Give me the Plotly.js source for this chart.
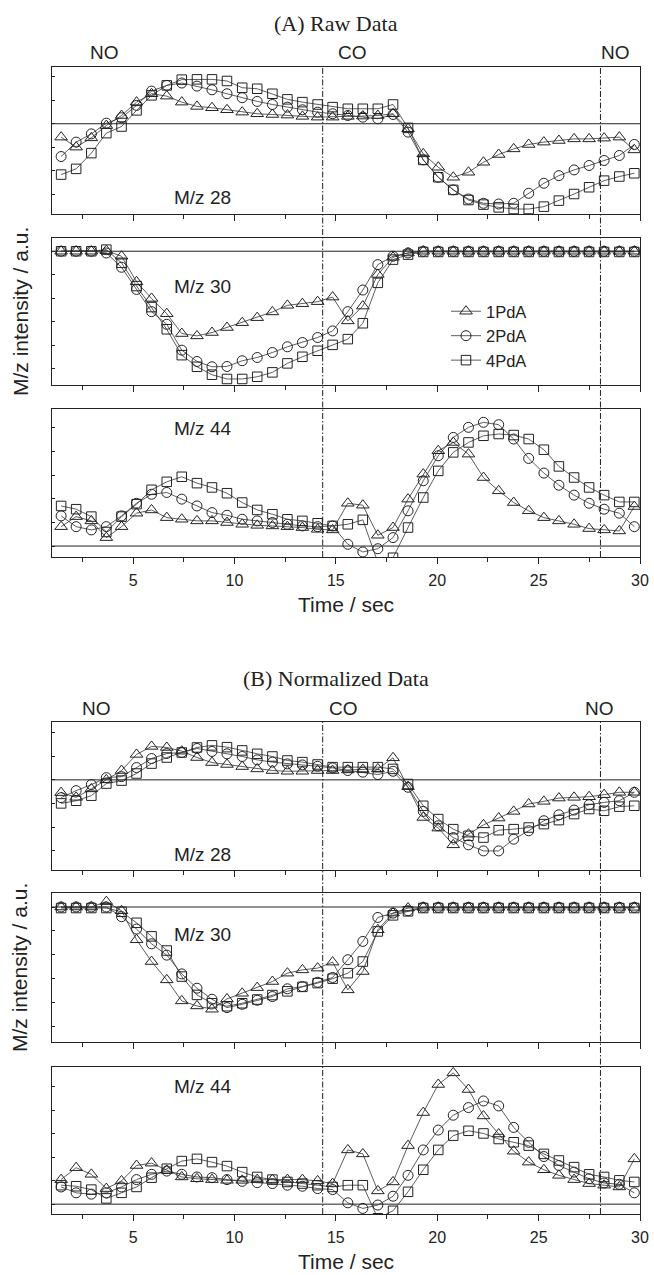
<!DOCTYPE html>
<html><head><meta charset="utf-8">
<script src="https://cdn.plot.ly/plotly-3.0.1.min.js"></script>
<style>html,body{margin:0;padding:0;background:#fff}#chart{width:654px;height:1275px}</style>
</head><body><div id="chart"></div>
<script>
// ---- data (arbitrary intensity units, 0-100 per panel) ----
const time = [1.45,2.19,2.94,3.68,4.43,5.17,5.91,6.66,7.40,8.15,8.89,9.63,10.38,11.12,11.87,12.61,13.35,14.10,14.84,15.59,16.33,17.07,17.82,18.56,19.31,20.05,20.79,21.54,22.28,23.03,23.77,24.51,25.26,26.00,26.75,27.49,28.23,28.98,29.72];
const seriesNames = ['1PdA','2PdA','4PdA'];
const panelLabels = ['M/z 28','M/z 30','M/z 44','M/z 28','M/z 30','M/z 44'];
const figTitles = ['(A) Raw Data','(B) Normalized Data'];
const gasLabels = ['NO','CO','NO'];
const switchTimes = [14.35, 28.05];
const baselines = [61.4, 91.0, 7.4, 60.9, 90.6, 6.7];

// (A) raw data
const a28_1 = [52.3,45.5,51.8,60.2,67.0,76.1,81.8,80.2,76.1,73.2,72.3,70.9,69.3,68.2,67.7,67.3,66.4,65.9,65.9,66.4,66.6,67.0,68.2,58.0,40.9,31.8,25.0,28.4,35.2,40.5,44.3,47.3,48.9,50.0,51.1,51.1,51.6,52.3,43.6];
const a28_2 = [39.1,48.9,54.5,61.8,65.5,73.9,83.6,87.5,89.1,87.0,84.5,81.8,79.1,76.6,74.5,72.7,70.9,69.3,68.2,67.0,65.9,64.8,67.7,55.7,36.8,25.0,16.4,10.2,7.3,6.8,7.3,14.1,20.9,26.1,30.0,33.0,36.4,39.8,47.3];
const a28_4 = [26.8,30.7,41.4,55.0,59.5,70.5,80.7,87.5,91.4,91.6,91.6,90.5,85.9,85.2,81.8,78.0,76.1,74.5,72.7,71.6,71.6,71.6,74.5,58.6,36.8,25.0,16.4,9.5,6.4,4.5,3.4,3.4,5.0,9.1,13.6,18.2,22.7,25.5,27.7];
const a30_1 = [91.0,91.0,91.0,91.4,87.6,70.2,58.9,48.5,35.0,33.4,35.7,39.1,42.4,45.8,49.7,54.2,55.3,56.7,59.8,43.6,53.7,75.2,86.9,89.8,91.0,91.0,91.0,91.0,91.0,91.0,91.0,91.0,91.0,91.0,91.0,91.0,91.0,91.0,91.0];
const a30_2 = [91.0,91.0,91.0,89.8,80.1,65.0,49.9,41.3,23.7,16.0,12.4,12.6,16.5,18.7,22.1,26.0,28.9,32.3,36.8,49.9,64.6,81.9,87.6,89.8,91.0,91.0,91.0,91.0,91.0,91.0,91.0,91.0,91.0,91.0,91.0,91.0,91.0,91.0,91.0];
const a30_4 = [91.0,91.0,91.0,92.1,83.1,67.3,53.0,37.9,20.3,12.4,7.0,4.1,4.1,5.6,8.6,14.7,19.2,23.3,27.3,31.2,42.0,69.5,85.3,88.7,90.5,90.5,90.5,90.5,90.5,90.5,90.5,90.5,90.5,90.5,90.5,90.5,90.5,90.5,90.5];
const a44_1 = [20.5,27.3,24.4,13.1,20.5,29.6,31.8,26.6,25.5,24.4,24.4,23.3,22.1,21.4,21.0,20.5,19.9,18.7,18.3,36.3,35.0,14.7,19.9,39.1,56.0,71.8,77.4,69.5,53.7,44.7,36.8,31.2,26.6,24.4,22.1,19.2,18.3,17.6,34.1];
const a44_2 = [27.8,20.5,18.3,20.5,27.8,36.3,42.4,43.6,39.1,34.5,30.0,28.2,25.5,24.4,23.3,22.1,21.0,20.5,21.0,8.6,3.4,5.6,13.1,31.2,51.5,68.4,80.8,87.6,91.0,89.4,79.7,66.6,56.7,48.5,41.8,36.3,32.3,29.6,20.5];
const a44_4 = [34.5,32.3,27.3,16.9,27.3,35.7,45.4,50.8,54.2,49.9,47.0,43.1,36.8,31.8,28.9,25.5,24.4,22.8,21.0,22.1,25.1,-3.8,-0.5,19.9,40.2,58.2,70.7,77.4,81.9,83.1,82.4,79.7,72.5,61.2,53.7,47.0,41.8,37.2,37.2];

// (B) normalized data
const b28_1 = [52.3,49.1,54.8,60.9,67.2,78.1,83.5,82.8,80.3,76.0,72.6,71.3,69.9,68.3,67.2,66.7,66.7,67.2,67.2,67.6,67.9,68.3,75.8,56.3,35.5,28.3,17.0,24.2,30.5,35.1,39.6,44.6,46.4,48.6,49.1,49.5,50.9,52.5,52.5];
const b28_2 = [48.9,53.6,57.7,62.4,63.1,69.2,75.3,78.7,79.4,82.1,80.1,78.5,76.7,74.4,72.9,71.7,71.0,70.1,69.0,67.2,66.1,64.5,66.7,55.9,39.6,29.9,21.9,17.0,12.9,12.9,20.8,26.5,33.3,37.3,40.5,44.1,45.7,46.8,52.5];
const b28_4 = [45.0,46.8,50.2,58.4,60.4,65.2,71.9,76.0,79.4,82.8,84.2,83.0,80.8,78.5,76.7,74.0,72.9,71.3,69.5,69.5,69.5,69.5,68.3,58.1,43.4,34.4,27.6,23.1,21.9,26.9,27.6,28.7,31.0,33.7,37.8,41.2,40.0,42.8,43.4];
const b30_1 = [90.6,90.6,90.6,94.2,88.1,68.6,54.0,41.7,27.6,24.2,22.0,28.9,32.7,36.5,40.6,46.2,48.4,49.6,53.6,35.0,47.3,75.3,86.5,89.9,90.4,90.4,90.4,90.4,90.4,90.4,90.4,90.4,90.4,90.4,90.4,90.4,90.4,90.4,90.4];
const b30_2 = [90.6,90.6,90.6,90.6,84.1,75.8,65.9,58.3,45.7,36.1,28.7,23.1,25.3,28.0,30.5,35.7,37.2,40.1,43.3,55.2,67.5,83.6,86.5,88.1,90.4,90.4,90.4,90.4,90.4,90.4,90.4,90.4,90.4,90.4,90.4,90.4,90.4,90.4,90.4];
const b30_4 = [89.9,89.9,89.9,89.9,87.4,80.0,70.9,61.4,43.9,31.6,26.0,24.0,26.0,28.5,31.5,34.0,37.0,39.5,42.5,46.2,54.0,74.2,85.0,87.7,89.9,89.9,89.9,89.9,89.9,89.9,89.9,89.9,89.9,89.9,89.9,89.9,89.9,89.9,89.9];
const b44_1 = [23.4,31.5,27.0,17.3,22.5,33.0,34.6,29.7,25.2,24.0,23.4,22.9,22.9,23.4,23.4,23.4,23.4,22.5,20.7,43.6,40.9,15.7,21.8,46.5,69.0,88.1,96.0,84.7,66.7,54.4,42.7,35.3,30.1,26.3,23.4,20.7,19.6,18.4,37.5];
const b44_2 = [18.4,14.4,13.5,14.4,18.4,23.4,27.0,29.2,27.0,25.2,24.7,23.4,22.2,21.3,20.7,19.6,18.9,17.3,16.6,7.6,3.8,6.1,12.1,26.3,43.6,57.1,67.2,72.4,76.9,73.5,58.9,48.8,39.1,33.0,28.5,24.0,21.1,20.2,14.4];
const b44_4 = [19.6,18.9,16.6,10.6,14.4,18.4,24.7,30.8,36.0,37.5,35.3,32.6,28.5,25.2,23.4,21.8,20.7,19.6,18.4,19.6,19.6,-2.9,2.2,15.1,30.1,43.6,53.3,56.6,54.8,51.0,48.8,46.5,40.9,36.4,31.9,27.0,25.2,22.9,21.8];

const panelData = [
  [a28_1,a28_2,a28_4],[a30_1,a30_2,a30_4],[a44_1,a44_2,a44_4],
  [b28_1,b28_2,b28_4],[b30_1,b30_2,b30_4],[b44_1,b44_2,b44_4]
];

// ---- layout geometry ----
const W = 654, H = 1275;
const xL = 52/W, xR = 640/W;
const panelPx = [[67,214],[238,385],[409,557],[722,870],[893,1042],[1067,1214]];
const py = v => 1 - v/H;
const ink = '#222';
const sans = 'Arial, "Liberation Sans", Helvetica, sans-serif';
const serif = '"Times New Roman", "Liberation Serif", serif';

const symbols = ['triangle-up-open','circle-open','square-open'];
const msizes = [11, 10, 9.5];

const traces = [];
const layout = {
  width: W, height: H,
  margin: {l:0, r:0, t:0, b:0},
  paper_bgcolor: '#fff', plot_bgcolor: 'rgba(0,0,0,0)',
  showlegend: true,
  legend: {x: 446/W, y: py(294), xanchor: 'left', yanchor: 'top',
           bgcolor: 'rgba(0,0,0,0)', font: {family: sans, size: 16.5, color: ink},
           tracegroupgap: 0},
  shapes: [], annotations: []
};

panelData.forEach((set, p) => {
  const n = p + 1;
  const xa = 'x' + (n > 1 ? n : ''), ya = 'y' + (n > 1 ? n : '');
  set.forEach((vals, s) => {
    traces.push({
      type: 'scatter', mode: 'lines+markers', x: time, y: vals,
      xaxis: xa, yaxis: ya, name: seriesNames[s],
      showlegend: p === 1, legendrank: s + 1,
      line: {color: '#333', width: 0.8},
      marker: {symbol: symbols[s], size: msizes[s], color: ink, line: {width: 1, color: ink}},
      hoverinfo: 'skip'
    });
  });
  const [top, bot] = panelPx[p];
  const bottomPanel = (p === 2 || p === 5);
  layout['xaxis' + (n > 1 ? n : '')] = {
    domain: [xL, xR], range: [1, 30], anchor: ya,
    showline: true, mirror: true, linecolor: ink, linewidth: 1,
    ticks: 'outside', ticklen: 6, tickwidth: 1, tickcolor: ink,
    tick0: 0, dtick: 5, showticklabels: bottomPanel,
    tickfont: {family: sans, size: 16, color: ink}, ticklabelstandoff: 3,
    minor: {tick0: 0, dtick: 2.5, ticks: 'outside', ticklen: 3.5, tickcolor: ink, showgrid: false},
    showgrid: false, zeroline: false, fixedrange: true
  };
  layout['yaxis' + (n > 1 ? n : '')] = {
    domain: [py(bot), py(top)], range: [0, 100], anchor: xa,
    showline: true, mirror: true, linecolor: ink, linewidth: 1,
    ticks: 'inside', ticklen: 3, tickcolor: ink, tick0: baselines[p], dtick: 16,
    showticklabels: false, showgrid: false, zeroline: false, fixedrange: true
  };
  layout.shapes.push({type: 'line', xref: xa, yref: ya, x0: 1, x1: 30,
    y0: baselines[p], y1: baselines[p], line: {color: ink, width: 1}, layer: 'below'});
  layout.annotations.push({xref: xa, yref: ya, x: 8.4, y: [11.4, 67.3, 86.5, 10.6, 72, 87][p],
    text: panelLabels[p], showarrow: false, font: {family: sans, size: 19, color: ink},
    xanchor: 'center', yanchor: 'middle'});
});

// group-level decorations
[[0, 2], [3, 5]].forEach(([pTop, pBot], g) => {
  const yTop = py(panelPx[pTop][0]), yBot = py(panelPx[pBot][1]);
  switchTimes.forEach(t => layout.shapes.push({type: 'line', xref: 'x', yref: 'paper',
    x0: t, x1: t, y0: yBot, y1: yTop, line: {color: ink, width: 1, dash: '6px,2px,1.5px,2px'}}));
  const titleY = g === 0 ? 24 : 678;
  layout.annotations.push({xref: 'paper', yref: 'paper', x: 336 / W, y: py(titleY),
    text: figTitles[g], showarrow: false, font: {family: serif, size: 22, color: ink},
    xanchor: 'center', yanchor: 'middle'});
  const gasX = g === 0 ? [3.6, 15.8, 28.8] : [3.2, 15.4, 28.0];
  const gasY = g === 0 ? 53 : 708;
  gasLabels.forEach((lab, i) => layout.annotations.push({xref: 'x', yref: 'paper',
    x: gasX[i], y: py(gasY), text: lab, showarrow: false,
    font: {family: sans, size: 19, color: ink}, xanchor: 'center', yanchor: 'middle'}));
  const botPx = panelPx[pBot][1];
  layout.annotations.push({xref: 'paper', yref: 'paper', x: 346 / W, y: py(botPx + 47),
    text: 'Time / sec', showarrow: false, font: {family: sans, size: 21, color: ink},
    xanchor: 'center', yanchor: 'middle'});
  const midPx = (panelPx[pTop][0] + botPx) / 2;
  layout.annotations.push({xref: 'paper', yref: 'paper', x: 20 / W, y: py(midPx),
    text: 'M/z intensity / a.u.', textangle: -90, showarrow: false,
    font: {family: sans, size: 21, color: ink}, xanchor: 'center', yanchor: 'middle'});
});

Plotly.newPlot('chart', traces, layout, {displayModeBar: false, staticPlot: true});
</script>
</body></html>
